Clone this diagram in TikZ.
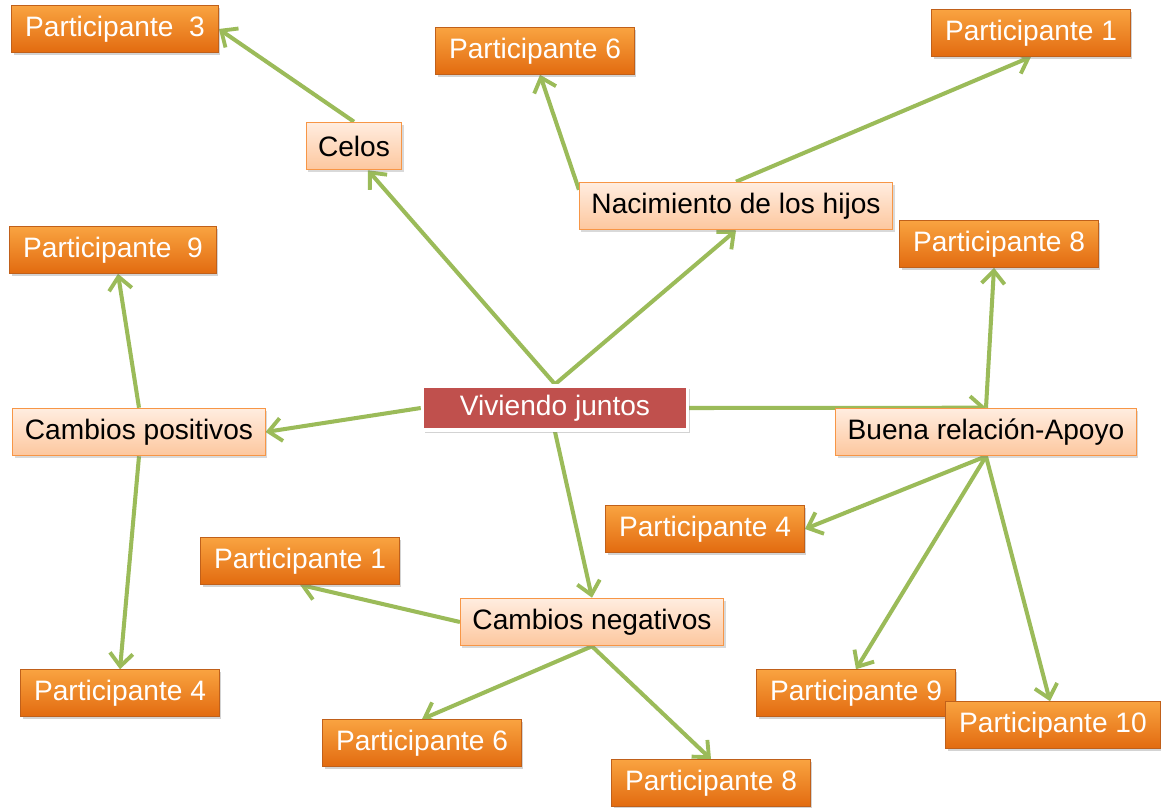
\documentclass[tikz,border=0pt]{standalone}
\usepackage{fontspec}
\setmainfont{Liberation Sans}
\usepackage{tikz}
\usetikzlibrary{arrows.meta,shadows,backgrounds}

\definecolor{orangetop}{HTML}{F9A340}
\definecolor{orangebot}{HTML}{E26B10}
\definecolor{orangeline}{HTML}{C0601A}
\definecolor{peachtop}{HTML}{FFEDE0}
\definecolor{peachbot}{HTML}{FDC79E}
\definecolor{peachline}{HTML}{F79646}
\definecolor{hubred}{HTML}{C0504D}
\definecolor{linkgreen}{HTML}{9BBB59}

\begin{document}
\begin{tikzpicture}[
			x=0.02cm,y=-0.02cm,
			partnode/.style={
				rectangle,
				draw=orangeline,
				line width=0.6pt,
				top color=orangetop,
				bottom color=orangebot,
				text=white,
				minimum height=0.93cm,
				inner xsep=0.27cm,
				drop shadow={opacity=0.35,shadow xshift=0.04cm,shadow yshift=-0.05cm},
				font=\fontsize{16}{19}\selectfont
			},
			themenode/.style={
				rectangle,
				draw=peachline,
				line width=0.6pt,
				top color=peachtop,
				bottom color=peachbot,
				text=black,
				minimum height=0.95cm,
				inner xsep=0.24cm,
				drop shadow={opacity=0.3,shadow xshift=0.04cm,shadow yshift=-0.05cm},
				font=\fontsize{16}{19}\selectfont
			},
			hubnode/.style={
				rectangle,
				draw=white,
				line width=2pt,
				fill=hubred,
				text=white,
				minimum width=5.3cm,
				minimum height=0.88cm,
				drop shadow={opacity=0.35,shadow xshift=0.05cm,shadow yshift=-0.06cm},
				font=\fontsize{16}{19}\selectfont
			},
			arrow/.style={-{Straight Barb[length=2.6mm,width=4.6mm,line width=2.2pt]},line width=2.3pt,draw=linkgreen}
			]
			\useasboundingbox (0,0) rectangle (1161,808);
			
			\node[hubnode] (viv) at (555,408) {Viviendo juntos};
			
			\node[themenode] (celos) at (354,146) {Celos};
			\node[themenode] (nac) at (736,206) {Nacimiento de los hijos};
			\node[themenode] (cpos) at (139,432) {Cambios positivos};
			\node[themenode] (buena) at (986,432) {Buena relación-Apoyo};
			\node[themenode] (cneg) at (592,622) {Cambios negativos};
			
			\node[partnode] (p3) at (115,29) {Participante\ \ 3};
			\node[partnode] (p6a) at (535,51) {Participante 6};
			\node[partnode] (p1a) at (1031,33) {Participante 1};
			\node[partnode] (p8a) at (999,244) {Participante 8};
			\node[partnode] (p9a) at (113,250) {Participante\ \ 9};
			\node[partnode] (p4b) at (705,529) {Participante 4};
			\node[partnode] (p1b) at (300,561) {Participante 1};
			\node[partnode] (p4a) at (120,693) {Participante 4};
			\node[partnode] (p9b) at (856,693) {Participante 9};
			\node[partnode] (p10) at (1053,725) {Participante 10};
			\node[partnode] (p6b) at (422,743) {Participante 6};
			\node[partnode] (p8b) at (711,783) {Participante 8};
			
			\begin{pgfonlayer}{background}
			\draw[arrow] (celos.north) -- (p3.east);
			\draw[arrow] (viv.north) -- ([xshift=0.28cm]celos.south);
			\draw[arrow] (viv.north) -- (nac.south);
			\draw[arrow] ([yshift=-0.16cm]nac.north west) -- ([xshift=0.1cm]p6a.south);
			\draw[arrow] (nac.north) -- (p1a.south);
			\draw[arrow] (buena.north) -- ([xshift=-0.1cm]p8a.south);
			\draw[arrow] (viv.east) -- (buena.north);
			\draw[arrow] (viv.west) -- (cpos.east);
			\draw[arrow] (cpos.north) -- ([xshift=0.1cm]p9a.south);
			\draw[arrow] (cpos.south) -- (p4a.north);
			\draw[arrow] (viv.south) -- (cneg.north);
			\draw[arrow] (cneg.west) -- (p1b.south);
			\draw[arrow] (cneg.south) -- (p6b.north);
			\draw[arrow] (cneg.south) -- (p8b.north);
			\draw[arrow] (buena.south) -- (p4b.east);
			\draw[arrow] (buena.south) -- (p9b.north);
			\draw[arrow] (buena.south) -- ([xshift=-0.06cm]p10.north);
			\end{pgfonlayer}
		\end{tikzpicture}
\end{document}
